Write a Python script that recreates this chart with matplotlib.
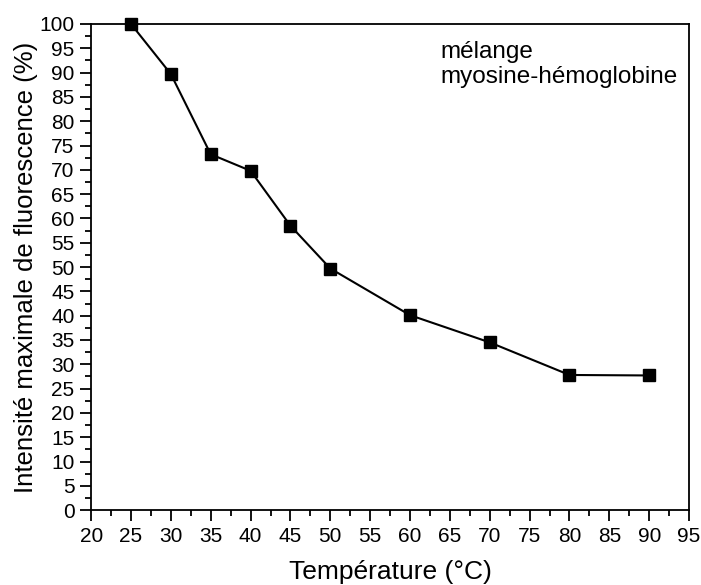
import matplotlib
matplotlib.use("Agg")
import matplotlib.pyplot as plt
from matplotlib.ticker import MultipleLocator

# Intensité de fluorescence du mélange en fonction de la température
temperature = [25, 30, 35, 40, 45, 50, 60, 70, 80, 90]
intensite = [100.0, 89.7, 73.2, 69.8, 58.5, 49.7, 40.1, 34.5, 27.8, 27.7]

plt.rcParams['font.family'] = ['Liberation Sans', 'DejaVu Sans']

fig = plt.figure(figsize=(7.01, 5.85), dpi=100)
ax = fig.add_axes([0.130, 0.128, 0.853, 0.831])

ax.plot(temperature, intensite, color='black', linewidth=1.5,
        marker='s', markersize=8.5, clip_on=False, zorder=3)

ax.set_xlim(20, 95)
ax.set_ylim(0, 100)
ax.xaxis.set_major_locator(MultipleLocator(5))
ax.xaxis.set_minor_locator(MultipleLocator(2.5))
ax.yaxis.set_major_locator(MultipleLocator(5))
ax.yaxis.set_minor_locator(MultipleLocator(2.5))

ax.tick_params(which='both', direction='out', top=False, right=False,
               width=1.3, labelsize=15)
ax.tick_params(which='major', length=8, pad=4)
ax.tick_params(which='minor', length=4.5)
for sp in ax.spines.values():
    sp.set_linewidth(1.3)

ax.set_xlabel('Température (°C)', fontsize=19, labelpad=10)
ax.set_ylabel('Intensité maximale de fluorescence (%)', fontsize=18.5, labelpad=1)

ax.text(63.8, 96.5, 'mélange\nmyosine-hémoglobine', fontsize=17.5,
        ha='left', va='top', linespacing=1.15)

fig.savefig('out.png', dpi=100)
